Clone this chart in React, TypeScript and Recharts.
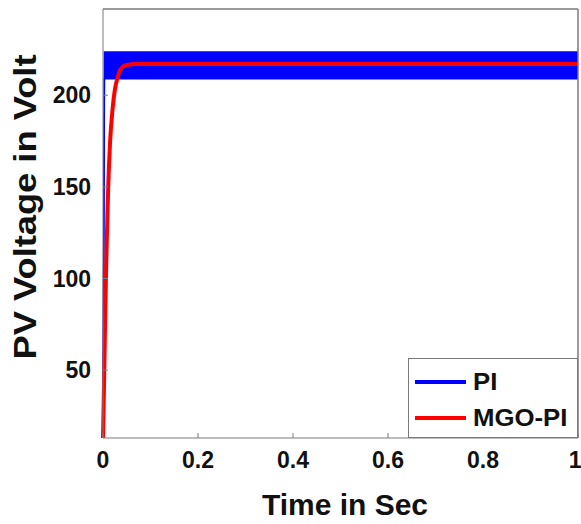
import React from "react";
import {
  ComposedChart,
  Area,
  Line,
  XAxis,
  YAxis,
  ReferenceLine,
} from "recharts";

// MGO-PI response (time in s, PV voltage in V)
const mgoTime = [0, 0.002, 0.004, 0.006, 0.008, 0.011, 0.015, 0.02, 0.025, 0.03, 0.035, 0.042, 0.05, 0.07, 1];
const mgoVolt = [13, 40, 70, 98, 121, 150, 175, 192, 203, 209, 213, 215.5, 216.5, 217, 217];

// PI response: fast switching ripple, drawn as its min/max envelope
const piTime = [0, 0.003, 1];
const piLow = [13, 209, 209];
const piHigh = [13, 223.5, 223.5];

const xTicks = [0, 0.2, 0.4, 0.6, 0.8, 1];
const yTicks = [50, 100, 150, 200];
const yDomain = [13, 247];

const legendItems = [
  { name: "PI", color: "#0000ff" },
  { name: "MGO-PI", color: "#ff0000" },
];

const mgoData = mgoTime.map((t, i) => ({ t, v: mgoVolt[i] }));
const piData = piTime.map((t, i) => ({ t, band: [piLow[i], piHigh[i]] }));

const FONT = "'Liberation Sans', Arial, sans-serif";
const FRAME = "#7a7a7a";
const INK = "#111";

const tickStyle = { fill: INK, fontSize: 23, fontWeight: "bold", fontFamily: FONT };
const hiddenTick = { fill: "none", fontSize: 1 };

const XTitle = () => (
  <text
    x={345}
    y={515}
    textAnchor="middle"
    fill={INK}
    fontSize={29}
    fontWeight="bold"
    fontFamily={FONT}
    textLength={166}
    lengthAdjust="spacingAndGlyphs"
  >
    Time in Sec
  </text>
);

const YTitle = () => (
  <text
    x={0}
    y={0}
    transform="translate(36 207) rotate(-90)"
    textAnchor="middle"
    fill={INK}
    fontSize={31}
    fontWeight="bold"
    fontFamily={FONT}
    textLength={305}
    lengthAdjust="spacingAndGlyphs"
  >
    PV Voltage in Volt
  </text>
);

const LegendBox = () => (
  <div
    style={{
      position: "absolute",
      left: 408,
      top: 358,
      width: 170,
      height: 80,
      border: `1px solid ${FRAME}`,
      background: "#fff",
      boxSizing: "border-box",
      fontFamily: FONT,
      fontWeight: "bold",
      fontSize: 23,
      color: INK,
      padding: "5px 0 0 6px",
    }}
  >
    {legendItems.map((d) => (
      <div key={d.name} style={{ display: "flex", alignItems: "center", height: 36 }}>
        <div style={{ width: 51, height: 4, background: d.color, marginRight: 7 }} />
        <span style={{ display: "inline-block", transform: "scaleX(1.12)", transformOrigin: "left center" }}>
          {d.name}
        </span>
      </div>
    ))}
  </div>
);

export default function App() {
  return (
    <div style={{ position: "absolute", left: 0, top: 0, width: 581, height: 524, background: "#fff" }}>
      <ComposedChart
        width={581}
        height={524}
        margin={{ top: 8, right: 2, left: 0, bottom: 0 }}
      >
        <XAxis
          dataKey="t"
          type="number"
          domain={[0, 1]}
          ticks={xTicks}
          allowDuplicatedCategory={false}
          height={86}
          stroke={FRAME}
          tickSize={-5}
          tickMargin={19}
          tick={tickStyle}
          label={<XTitle />}
        />
        {/* box edges with inward ticks, MATLAB style */}
        <XAxis
          xAxisId="top"
          orientation="top"
          type="number"
          domain={[0, 1]}
          ticks={xTicks}
          height={1}
          stroke={FRAME}
          tickSize={-5}
          tick={hiddenTick}
        />
        <YAxis
          type="number"
          domain={yDomain}
          ticks={yTicks}
          width={103}
          stroke={FRAME}
          tickSize={-5}
          tickMargin={17}
          tick={tickStyle}
          label={<YTitle />}
        />
        <YAxis
          yAxisId="right"
          orientation="right"
          type="number"
          domain={yDomain}
          ticks={yTicks}
          width={1}
          stroke={FRAME}
          tickSize={-5}
          tick={hiddenTick}
        />
        <ReferenceLine y={yDomain[1]} stroke={FRAME} />
        <ReferenceLine x={1} stroke={FRAME} />
        <Area
          data={piData}
          dataKey="band"
          type="linear"
          stroke="#0000ff"
          strokeWidth={1.5}
          fill="#0000ff"
          fillOpacity={1}
          isAnimationActive={false}
          dot={false}
          activeDot={false}
        />
        <Line
          data={mgoData}
          dataKey="v"
          type="monotone"
          stroke="#ff0000"
          strokeWidth={4}
          dot={false}
          activeDot={false}
          isAnimationActive={false}
        />
      </ComposedChart>
      <LegendBox />
    </div>
  );
}
